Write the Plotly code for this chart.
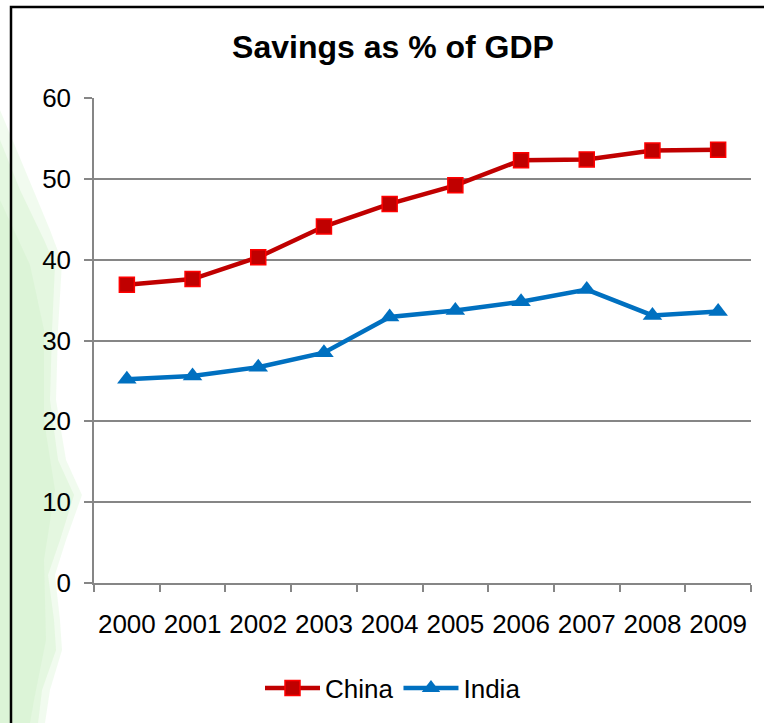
import plotly.graph_objects as go

years = ["2000", "2001", "2002", "2003", "2004", "2005", "2006", "2007", "2008", "2009"]
china = [36.9, 37.6, 40.3, 44.1, 46.9, 49.2, 52.3, 52.4, 53.5, 53.6]
india = [25.2, 25.6, 26.7, 28.5, 32.9, 33.7, 34.8, 36.3, 33.1, 33.6]
y_ticks = [0, 10, 20, 30, 40, 50, 60]

W, H = 764, 723
L, R, T, B = 94, 13, 98, 140
PW, PH = W - L - R, H - T - B


def px(x):
    return (x - L) / PW


def py(y):
    return (H - B - y) / PH


FONT = "Liberation Sans"

fig = go.Figure()
fig.add_trace(go.Scatter(
    x=years, y=china, name="China", mode="lines+markers",
    line=dict(color="#C00000", width=4.5),
    marker=dict(symbol="square", size=15, color="#C00000",
                line=dict(color="#FF0000", width=1.5)),
))
fig.add_trace(go.Scatter(
    x=years, y=india, name="India", mode="lines+markers",
    line=dict(color="#0070C0", width=4.5),
    marker=dict(symbol="triangle-up", size=17, color="#0070C0",
                line=dict(color="#0070C0", width=0)),
))

# soft green background blob on the left (layered for a blurred look)
blobs = [
    ([(0, 110), (25, 170), (50, 230), (62, 262), (58, 330), (56, 400),
      (66, 460), (82, 495), (66, 540), (55, 575), (60, 620), (62, 650),
      (50, 690), (45, 723), (0, 723)], 0.22),
    ([(0, 140), (20, 190), (44, 240), (55, 265), (52, 330), (50, 400),
      (58, 460), (74, 495), (60, 540), (48, 575), (54, 620), (56, 650),
      (42, 690), (38, 723), (0, 723)], 0.25),
    ([(0, 200), (30, 265), (44, 330), (44, 420), (55, 490), (44, 560),
      (46, 640), (34, 700), (30, 723), (0, 723)], 0.2),
]
for pts, a in blobs:
    path = "M " + " L ".join(f"{px(x):.4f},{py(y):.4f}" for x, y in pts) + " Z"
    fig.add_shape(type="path", path=path, xref="paper", yref="paper",
                  fillcolor=f"rgba(190,236,180,{a})", line=dict(width=0), layer="below")

# chart border
fig.add_shape(type="rect", xref="paper", yref="paper",
              x0=px(11), x1=px(800), y0=py(760), y1=py(7),
              line=dict(color="black", width=2.5), fillcolor="rgba(0,0,0,0)", layer="below")

fig.update_layout(
    width=W, height=H,
    margin=dict(l=L, r=R, t=T, b=B, autoexpand=False),
    paper_bgcolor="white", plot_bgcolor="rgba(0,0,0,0)",
    font=dict(family=FONT, size=26, color="black"),
    title=dict(text="<b>Savings as % of GDP</b>", x=393 / W, xref="container",
               y=1 - 47 / H, yref="container", xanchor="center", yanchor="middle",
               font=dict(family=FONT, size=32, color="black")),
    showlegend=True,
    legend=dict(orientation="h", x=px(393), y=py(688), xanchor="center", yanchor="middle",
                font=dict(family=FONT, size=26, color="black"), itemwidth=55,
                bgcolor="rgba(0,0,0,0)", tracegroupgap=0),
    xaxis=dict(type="category", range=[-0.5, 9.5], showgrid=False, automargin=False,
               showline=True, linecolor="#868686", linewidth=1.5, tickangle=0,
               ticks="outside", tickson="boundaries", ticklen=7, tickcolor="#868686",
               tickwidth=1.5, ticklabelstandoff=17,
               tickfont=dict(family=FONT, size=26, color="black")),
    yaxis=dict(range=[0, 60], tickvals=y_ticks, showgrid=True, gridcolor="#868686",
               gridwidth=1.5, zeroline=False, showline=True, linecolor="#868686",
               linewidth=1.5, ticks="outside", ticklen=8, tickcolor="#868686",
               tickwidth=1.5, ticklabelstandoff=8, automargin=False,
               tickfont=dict(family=FONT, size=26, color="black")),
)

fig.write_html("out.html")
